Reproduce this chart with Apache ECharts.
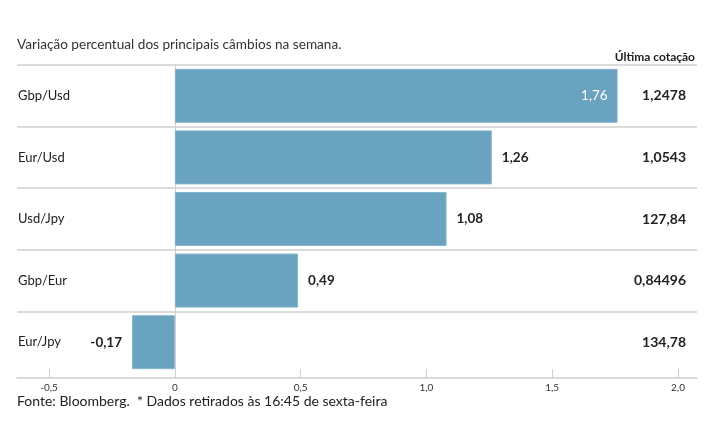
<!DOCTYPE html>
<html>
<head>
<meta charset="utf-8">
<script src="https://cdn.jsdelivr.net/npm/echarts@6/dist/echarts.min.js"></script>
<style>html,body{margin:0;padding:0;background:#fff}#c{width:715px;height:445px}</style>
</head>
<body>
<div id="c"></div>
<script>
const categories = ['Gbp/Usd', 'Eur/Usd', 'Usd/Jpy', 'Gbp/Eur', 'Eur/Jpy'];
const changes = [1.76, 1.26, 1.08, 0.49, -0.17];
const lastQuotes = ['1,2478', '1,0543', '127,84', '0,84496', '134,78'];
const xMin = -0.5, xMax = 2.0, xInterval = 0.5;

const FONT = 'Lato, "Open Sans", sans-serif';
const BAR = '#6aa3bf';
const LINE = '#cfcfcf';

const fmt = v => v.toFixed(2).replace('.', ',');

const barData = changes.map(v => ({
  value: v,
  label: {
    position: v < 0 ? 'left' : (v > 1.5 ? 'insideRight' : 'right'),
    color: v > 1.5 ? '#ffffff' : '#222222',
    fontWeight: v > 1.5 ? 'normal' : 'bold'
  }
}));

const chart = echarts.init(document.getElementById('c'), null, {renderer: 'canvas'});
chart.setOption({
  animation: false,
  textStyle: {fontFamily: FONT},
  title: [
    {text: 'Variação percentual dos principais câmbios na semana.', left: 12, top: 33,
     textStyle: {fontFamily: FONT, fontSize: 13.6, fontWeight: 'normal', color: '#333'}},
    {text: 'Última cotação', right: 15, top: 46,
     textStyle: {fontFamily: FONT, fontSize: 12, fontWeight: 'bold', color: '#222'}},
    {text: 'Fonte: Bloomberg.  * Dados retirados às 16:45 de sexta-feira', left: 12, top: 389,
     textStyle: {fontFamily: FONT, fontSize: 14, fontWeight: 'normal', color: '#222'}}
  ],
  grid: [
    {left: 49, right: 37, top: 65, bottom: 72},
    {left: 17, right: 18, top: 65, bottom: 72}
  ],
  xAxis: [
    {type: 'value', gridIndex: 0, min: xMin, max: xMax, interval: xInterval, offset: 5,
     axisLine: {show: false},
     axisTick: {show: true, inside: true, length: 9, lineStyle: {color: LINE}},
     splitLine: {show: false},
     axisLabel: {fontFamily: FONT, fontSize: 10, color: '#333', margin: 5,
       formatter: v => v === 0 ? '0' : v.toFixed(1).replace('.', ',')}},
    {type: 'value', gridIndex: 1, min: 0, max: 1, offset: 5,
     axisLine: {show: true, lineStyle: {color: LINE, width: 1.5}},
     axisTick: {show: false}, axisLabel: {show: false}, splitLine: {show: false}}
  ],
  yAxis: [
    {type: 'category', gridIndex: 0, data: categories, inverse: true,
     axisLine: {show: true, onZero: true, lineStyle: {color: LINE}},
     axisTick: {show: false}, axisLabel: {show: false}, splitLine: {show: false}},
    {type: 'category', gridIndex: 0, data: lastQuotes, inverse: true, position: 'right',
     axisLine: {show: false, onZero: false}, axisTick: {show: false},
     axisLabel: {align: 'right', margin: 8, fontFamily: FONT, fontSize: 14, fontWeight: 'bold', color: '#222'}},
    {type: 'category', gridIndex: 1, data: categories, inverse: true,
     axisLine: {show: false, onZero: false}, axisTick: {show: false},
     axisLabel: {align: 'left', margin: -1, fontFamily: FONT, fontSize: 13, color: '#222'},
     splitLine: {show: true, lineStyle: {color: [LINE, LINE, LINE, LINE, LINE, 'rgba(0,0,0,0)'], width: 1.5}}}
  ],
  series: [{
    type: 'bar', xAxisIndex: 0, yAxisIndex: 0,
    data: barData,
    barWidth: 54,
    itemStyle: {color: BAR, borderColor: '#86b5cc', borderWidth: 1},
    label: {show: true, distance: 10, fontFamily: FONT, fontSize: 13.5, formatter: p => fmt(p.value)}
  }]
});
</script>
</body>
</html>
